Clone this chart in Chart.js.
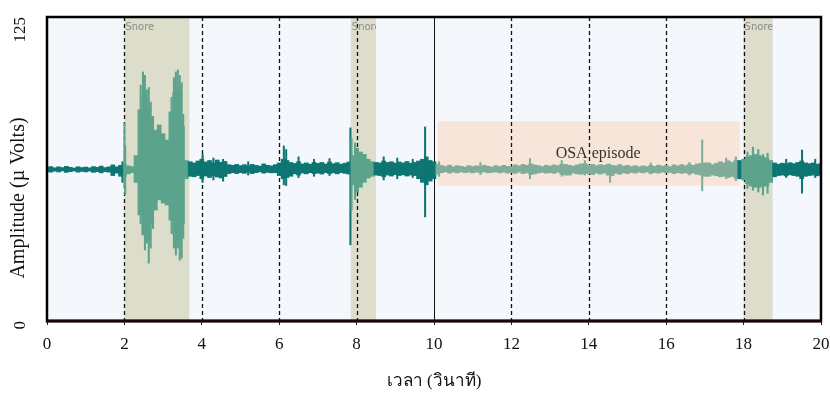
<!DOCTYPE html>
<html>
<head>
<meta charset="utf-8">
<script src="https://cdn.jsdelivr.net/npm/chart.js@4.4.0/dist/chart.umd.min.js"></script>
<style>
  body { margin: 0; background: #fff; }
  #wave { display: block; }
</style>
</head>
<body>
<canvas id="wave" width="830" height="394"></canvas>
<script>
// snore microphone signal: body of the trace, high / low every 0.1 s (µV)
const sampleStep = 0.1;
const coreHigh = [
    63.2, 63.5, 63.0, 63.4, 63.1, 63.6, 63.2, 62.9, 63.4, 63.1,
    63.3, 63.0, 63.5, 63.2, 63.7, 63.1, 63.4, 64.2, 63.4, 64.0,
    64.5, 63.8, 63.5, 68.0, 86.8, 92.9, 88.0, 84.0, 78.5, 80.6,
    77.0, 74.4, 86.0, 94.0, 95.0, 80.0, 66.0, 65.5, 65.0, 65.8,
    66.5, 65.4, 66.0, 65.0, 66.2, 65.3, 65.6, 64.3, 64.0, 64.4,
    63.9, 64.3, 63.8, 64.4, 64.0, 63.7, 64.6, 64.0, 63.8, 64.3,
    65.0, 66.5, 66.0, 65.2, 64.8, 65.5, 64.6, 65.0, 64.5, 65.2,
    64.8, 65.2, 64.6, 65.4, 64.7, 65.1, 64.5, 64.9, 65.4, 68.0,
    71.0, 69.5, 68.5, 66.5, 65.5, 65.2, 65.0, 65.8, 65.2, 65.5,
    64.9, 65.4, 65.0, 65.6, 64.9, 65.2, 65.8, 66.5, 67.5, 66.0,
    65.5, 64.5, 63.9, 63.5, 64.1, 63.4, 63.9, 63.6, 63.3, 63.9,
    63.5, 63.8, 63.4, 64.0, 63.6, 63.3, 63.9, 63.5, 64.0, 63.6,
    63.5, 64.2, 63.8, 64.4, 64.0, 64.6, 64.2, 63.9, 63.5, 64.0,
    63.7, 64.2, 63.9, 64.5, 64.4, 64.0, 63.7, 64.2, 64.6, 64.8,
    64.1, 64.4, 63.9, 64.3, 64.0, 64.5, 64.0, 63.8, 64.3, 63.7,
    64.0, 63.5, 63.9, 63.4, 63.8, 63.5, 64.0, 63.6, 64.1, 63.7,
    63.9, 63.5, 64.2, 63.8, 64.3, 63.9, 64.4, 64.0, 64.6, 64.8,
    65.0, 65.0, 64.3, 64.9, 65.5, 65.0, 65.9, 65.3, 66.1, 66.0,
    66.5, 67.5, 68.0, 68.5, 68.0, 67.5, 67.0, 66.0, 65.0, 64.5,
    64.9, 64.6, 65.1, 64.7, 65.2, 65.8, 65.0, 64.7, 65.0, 64.5,
    64.8
];
const coreLow = [
    61.5, 61.2, 61.6, 61.3, 61.7, 61.1, 61.4, 61.7, 61.2, 61.5,
    61.3, 61.6, 61.1, 61.4, 60.9, 61.4, 61.2, 59.8, 60.8, 59.5,
    59.5, 60.5, 61.0, 57.0, 43.6, 35.4, 33.3, 40.0, 45.6, 49.8,
    48.5, 47.7, 41.5, 35.4, 33.3, 40.0, 58.5, 59.5, 59.3, 59.8,
    58.5, 59.6, 59.0, 59.8, 59.2, 58.8, 59.4, 60.6, 61.0, 60.6,
    61.0, 60.7, 61.2, 60.6, 61.0, 61.3, 60.8, 61.1, 60.9, 61.0,
    59.8, 58.5, 59.0, 59.5, 60.5, 60.0, 60.8, 60.5, 61.0, 60.6,
    60.8, 60.4, 61.0, 60.6, 60.9, 60.5, 61.0, 60.7, 60.4, 56.0,
    53.0, 55.0, 57.0, 58.8, 59.5, 60.0, 59.8, 59.3, 60.0, 59.6,
    60.2, 59.8, 60.1, 59.6, 60.0, 59.8, 58.5, 57.0, 56.0, 57.5,
    58.5, 60.3, 61.0, 61.3, 60.8, 61.2, 60.9, 61.3, 61.0, 61.2,
    60.9, 61.2, 61.0, 61.3, 60.9, 61.1, 61.3, 60.9, 61.2, 60.8,
    61.0, 60.7, 61.2, 60.6, 60.9, 60.2, 60.5, 60.9, 61.1, 60.8,
    61.0, 60.7, 61.1, 60.3, 60.0, 60.0, 60.8, 60.5, 60.3, 60.6,
    60.6, 60.2, 60.8, 60.4, 60.8, 60.0, 59.8, 60.7, 60.3, 60.9,
    60.6, 61.1, 60.8, 61.2, 60.9, 61.3, 60.7, 61.0, 60.8, 61.2,
    60.9, 61.1, 60.6, 61.0, 60.7, 60.9, 60.5, 60.8, 60.3, 60.0,
    59.5, 59.5, 60.0, 59.7, 59.3, 59.5, 59.0, 59.4, 58.7, 58.5,
    58.0, 56.5, 55.5, 55.0, 55.0, 55.5, 55.5, 57.0, 59.3, 59.8,
    60.0, 59.7, 60.1, 59.8, 59.5, 58.5, 59.5, 59.8, 60.0, 59.7,
    60.2
];

// short transients sticking out of the body: time (s), peak and trough (µV)
const needleTime = [
    1.95, 2.0, 2.02, 2.42, 2.48, 2.53, 2.58, 2.63, 2.68, 2.74,
    3.22, 3.28, 3.33, 3.38, 3.43, 3.48, 3.52, 4.02, 4.3, 4.55,
    5.2, 6.12, 6.18, 6.5, 6.9, 7.3, 7.84, 7.87, 7.96, 8.7,
    9.05, 9.45, 9.77, 10.13, 11.2, 12.48, 13.3, 13.9, 14.55, 15.6,
    16.6, 16.93, 17.55, 17.8, 18.1, 18.24, 18.38, 18.5, 18.62, 19.1,
    19.51, 19.85
];
const needleTop = [
    65.5, 81.4, 72.0, 97.0, 102.4, 101.0, 95.0, 96.0, 90.0, 84.0,
    92.0, 100.0, 102.4, 103.2, 101.0, 98.0, 85.0, 68.5, 67.0, 66.5,
    65.5, 72.0, 70.5, 67.5, 66.5, 66.8, 79.4, 75.0, 73.2, 67.5,
    67.0, 66.5, 79.8, 65.5, 65.2, 66.8, 66.0, 66.0, 64.5, 65.0,
    65.2, 74.4, 67.0, 67.5, 69.5, 71.5, 70.5, 68.5, 69.0, 66.5,
    70.3, 66.5
];
const needleBottom = [
    57.0, 55.1, 52.0, 40.0, 36.0, 29.2, 32.0, 23.8, 30.0, 38.0,
    36.0, 30.0, 27.1, 30.0, 25.0, 25.9, 34.0, 57.0, 58.0, 57.5,
    60.0, 56.0, 55.7, 59.0, 59.5, 59.8, 31.3, 45.6, 50.0, 58.0,
    58.5, 59.0, 42.8, 59.5, 60.2, 58.5, 59.5, 60.0, 57.0, 60.5,
    60.0, 53.5, 58.5, 57.8, 54.5, 53.8, 53.0, 51.8, 52.5, 59.0,
    52.6, 59.0
];

// annotated events (seconds / µV)
const snoreStart = [2.0, 7.85, 18.0];
const snoreEnd = [3.68, 8.5, 18.75];
const osaStart = 10.1;
const osaEnd = 17.9;
const osaLow = 55.7;
const osaHigh = 82.1;

// axis ticks
const xTicks = [0, 2, 4, 6, 8, 10, 12, 14, 16, 18, 20];
const yTicks = [0, 125];
const dashedTimes = [2, 4, 6, 8, 12, 14, 16, 18];
const solidTimes = [10];

const COL_SIGNAL = '#0d7673';
const COL_SIGNAL_SNORE = '#5ca38c';
const COL_SIGNAL_OSA = '#7fad9a';

function inSnore(t) {
    for (let i = 0; i < snoreStart.length; i++) {
        if (t >= snoreStart[i] && t < snoreEnd[i]) return true;
    }
    return false;
}

function signalColor(t) {
    if (inSnore(t)) return COL_SIGNAL_SNORE;
    if (t >= osaStart && t < osaEnd) return COL_SIGNAL_OSA;
    return COL_SIGNAL;
}

const barColor = ctx => signalColor(ctx.raw ? ctx.raw.x : 0);

// body: one floating bar per sample; transients: hairline floating bars
const bodyBars = coreHigh.map((hi, i) => ({ x: i * sampleStep, y: [coreLow[i], hi] }));
const needleBars = needleTime.map((t, i) => ({ x: t, y: [needleBottom[i], needleTop[i]] }));

// keep rotated / edge labels from pushing the plot area inwards
function noOverhang(scale) {
    scale.paddingTop = 0;
    scale.paddingBottom = 0;
    scale.paddingLeft = 0;
    scale.paddingRight = 0;
}

const backdrop = {
    id: 'backdrop',
    beforeDraw(chart) {
        const { ctx, chartArea: a } = chart;
        ctx.save();
        ctx.fillStyle = '#f4f7fc';
        ctx.fillRect(a.left, a.top, a.right - a.left, a.bottom - a.top);
        ctx.restore();
    },
    beforeDatasetsDraw(chart) {
        const { ctx, chartArea: a, scales: { x, y } } = chart;
        ctx.save();
        // snore bands
        ctx.fillStyle = '#dcddca';
        snoreStart.forEach((s, i) => {
            const x0 = x.getPixelForValue(s);
            const x1 = x.getPixelForValue(snoreEnd[i]);
            ctx.fillRect(x0, a.top, x1 - x0, a.bottom - a.top);
        });
        // OSA box
        ctx.fillStyle = '#f8e5d9';
        const ox0 = x.getPixelForValue(osaStart);
        const ox1 = x.getPixelForValue(osaEnd);
        const oy0 = y.getPixelForValue(osaHigh);
        const oy1 = y.getPixelForValue(osaLow);
        ctx.fillRect(ox0, oy0, ox1 - ox0, oy1 - oy0);

        // vertical markers
        ctx.strokeStyle = '#111';
        ctx.lineWidth = 1.3;
        ctx.setLineDash([4, 3]);
        dashedTimes.forEach(t => {
            const px = Math.round(x.getPixelForValue(t)) + 0.5;
            ctx.beginPath();
            ctx.moveTo(px, a.top);
            ctx.lineTo(px, a.bottom);
            ctx.stroke();
        });
        ctx.setLineDash([]);
        ctx.lineWidth = 1;
        solidTimes.forEach(t => {
            const px = Math.round(x.getPixelForValue(t)) + 0.5;
            ctx.beginPath();
            ctx.moveTo(px, a.top);
            ctx.lineTo(px, a.bottom);
            ctx.stroke();
        });
        ctx.restore();
    },
    afterDatasetsDraw(chart) {
        const { ctx, chartArea: a, scales: { x, y } } = chart;
        ctx.save();
        // snore tags, clipped to their band
        ctx.font = '10px "DejaVu Sans"';
        ctx.fillStyle = '#8c8c8c';
        ctx.textBaseline = 'middle';
        snoreStart.forEach((s, i) => {
            const x0 = x.getPixelForValue(s);
            const x1 = x.getPixelForValue(snoreEnd[i]);
            ctx.save();
            ctx.beginPath();
            ctx.rect(x0, a.top, x1 - x0, 20);
            ctx.clip();
            ctx.fillText('Snore', x0 + 1, a.top + 10);
            ctx.restore();
        });

        ctx.font = '16px "Liberation Serif"';
        ctx.fillStyle = '#333';
        ctx.textAlign = 'center';
        ctx.fillText('OSA episode', x.getPixelForValue(14.24), y.getPixelForValue(68.7));

        // frame
        ctx.strokeStyle = '#000';
        ctx.lineWidth = 2.5;
        ctx.strokeRect(a.left, a.top, a.right - a.left, a.bottom - a.top);
        ctx.strokeStyle = '#1e0505';
        ctx.lineWidth = 3;
        ctx.beginPath();
        ctx.moveTo(a.left - 1, a.bottom);
        ctx.lineTo(a.right + 1, a.bottom);
        ctx.stroke();

        // y axis title
        ctx.font = '20px "Liberation Serif"';
        ctx.fillStyle = '#111';
        ctx.translate(19, 198);
        ctx.rotate(-Math.PI / 2);
        ctx.fillText('Amplitude (\u00b5 Volts)', 0, 0);
        ctx.restore();
    }
};

new Chart(document.getElementById('wave'), {
    type: 'bar',
    data: {
        datasets: [{
            // transients, drawn on top of the body
            data: needleBars,
            backgroundColor: barColor,
            borderWidth: 0,
            borderSkipped: false,
            barThickness: 1.4,
            grouped: false
        }, {
            data: bodyBars,
            backgroundColor: barColor,
            borderWidth: 0,
            borderSkipped: false,
            barThickness: 4,
            grouped: false
        }]
    },
    options: {
        responsive: false,
        animation: false,
        events: [],
        layout: { padding: { top: 17, right: 9, left: 0, bottom: 0 } },
        plugins: {
            legend: { display: false },
            tooltip: { enabled: false }
        },
        scales: {
            x: {
                type: 'linear',
                min: 0,
                max: 20,
                offset: false,
                afterBuildTicks: scale => { scale.ticks = xTicks.map(v => ({ value: v })); },
                afterFit: scale => { scale.height = 73; noOverhang(scale); },
                border: { display: false },
                grid: { drawOnChartArea: false, offset: false, tickLength: 4, color: '#222', lineWidth: 1 },
                ticks: {
                    padding: 9,
                    color: '#111',
                    maxRotation: 0,
                    font: { family: 'Liberation Serif', size: 17 }
                },
                title: {
                    display: true,
                    text: 'เวลา (วินาที)',
                    color: '#111',
                    padding: { top: 0, bottom: 2 },
                    font: { family: 'Liberation Serif', size: 17 }
                }
            },
            y: {
                min: 0,
                max: 125,
                afterBuildTicks: scale => { scale.ticks = yTicks.map(v => ({ value: v })); },
                afterFit: scale => { scale.width = 47; noOverhang(scale); },
                border: { display: false },
                grid: { display: false, drawTicks: false },
                ticks: {
                    padding: 26,
                    minRotation: 90,
                    maxRotation: 90,
                    color: '#111',
                    font: { family: 'Liberation Serif', size: 17 }
                }
            }
        }
    },
    plugins: [backdrop]
});
</script>
</body>
</html>
